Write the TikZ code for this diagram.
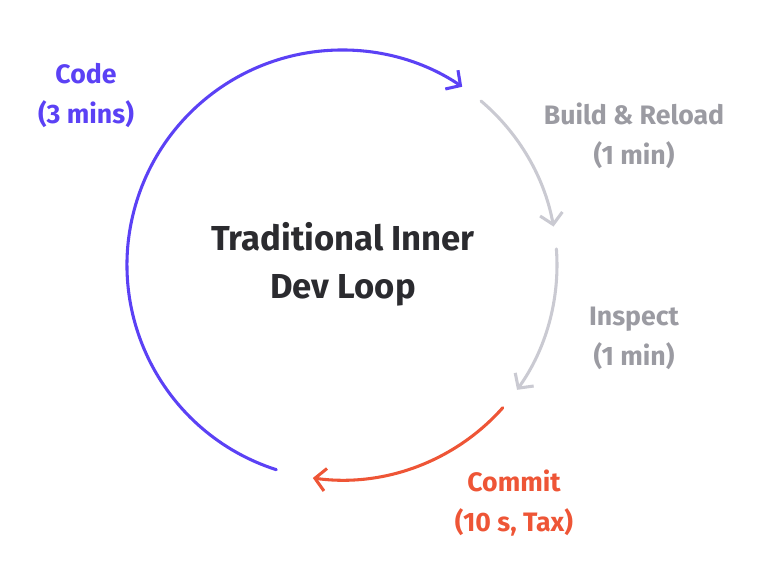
\documentclass[tikz,border=0pt]{standalone}
\usepackage{fontspec}
\setmainfont{Fira Sans}
\usetikzlibrary{arrows.meta}
\definecolor{cpurple}{HTML}{5B41F5}
\definecolor{cgrey}{HTML}{CACAD2}
\definecolor{cred}{HTML}{EE5536}
\definecolor{tgrey}{HTML}{9B9BA2}
\definecolor{tdark}{HTML}{2B2B2F}
\tikzset{
  loop/.style={line width=2.3pt, line cap=round, -{Straight Barb[length=8pt,width=17pt,line width=2.3pt]}},
  lab/.style={align=center, font=\bfseries\fontsize{20}{30}\selectfont, inner sep=0pt},
}
\begin{document}
\begin{tikzpicture}[x=0.75pt,y=0.75pt]
\useasboundingbox (0,0) rectangle (772,-580);
\coordinate (c) at (342,-265);
\draw[loop, cpurple] ([shift={(252.2:215)}]c) arc[start angle=252.2, end angle=56, radius=215];
\draw[loop, cgrey] ([shift={(49.7:215)}]c) arc[start angle=49.7, end angle=10.3, radius=215];
\draw[loop, cgrey] ([shift={(4.3:215)}]c) arc[start angle=4.3, end angle=-35.5, radius=215];
\draw[loop, cred] ([shift={(-41.6:215)}]c) arc[start angle=-41.6, end angle=-97.8, radius=215];
\node[lab, text=tdark, font=\bfseries\fontsize{26}{36}\selectfont] (title) at (343,-264) {Traditional Inner\\Dev Loop};
\node[lab, text=cpurple] (code) at (86,-96) {Code\\(3 mins)};
\node[lab, text=tgrey] (build) at (634,-136) {Build \& Reload\\(1 min)};
\node[lab, text=tgrey] (inspect) at (634,-338) {Inspect\\(1 min)};
\node[lab, text=cred] (commit) at (514,-503) {Commit\\(10 s, Tax)};
\end{tikzpicture}
\end{document}
